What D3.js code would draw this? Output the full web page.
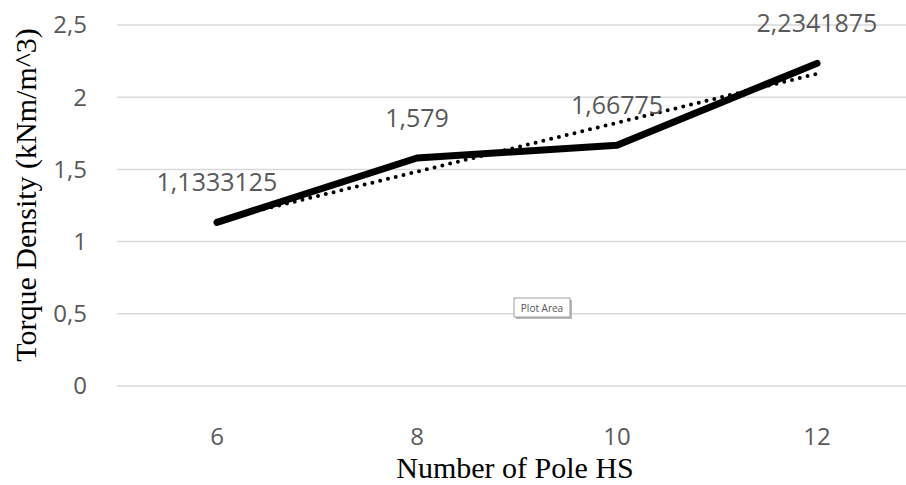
<!DOCTYPE html>
<html>
<head>
  <meta charset="utf-8">
  <script src="https://d3js.org/d3.v7.min.js"></script>
  <style>
    body { margin: 0; background: #fff; }
    svg { display: block; }
  </style>
</head>
<body>
  <div id="chart"></div>
  <script>
    // data
    var poles = ["6", "8", "10", "12"];
    var torque = [1.1333125, 1.579, 1.66775, 2.2341875];
    var labels = ["1,1333125", "1,579", "1,66775", "2,2341875"];
    var yTicks = [0, 0.5, 1, 1.5, 2, 2.5];

    var W = 906, H = 485;
    var svg = d3.select("#chart").append("svg")
      .attr("width", W)
      .attr("height", H);

    var x = d3.scalePoint().domain(poles).range([117, 917]).padding(0.5);
    var y = d3.scaleLinear().domain([0, 2.5]).range([386, 25]);

    var fmt = function (v) { return String(v).replace(".", ","); };

    // gridlines
    svg.append("g").selectAll("line")
      .data(yTicks)
      .join("line")
      .attr("x1", 117).attr("x2", W)
      .attr("y1", d => y(d)).attr("y2", d => y(d))
      .attr("stroke", "#d9d9d9")
      .attr("stroke-width", 1.5);

    // y tick labels
    svg.append("g").selectAll("text")
      .data(yTicks)
      .join("text")
      .attr("x", 87)
      .attr("y", d => y(d))
      .attr("dy", "0.35em")
      .attr("text-anchor", "end")
      .attr("font-family", "Open Sans")
      .attr("font-size", 24)
      .attr("fill", "#595959")
      .text(fmt);

    // x tick labels
    svg.append("g").selectAll("text")
      .data(poles)
      .join("text")
      .attr("x", d => x(d))
      .attr("y", 437)
      .attr("dy", "0.35em")
      .attr("text-anchor", "middle")
      .attr("font-family", "Open Sans")
      .attr("font-size", 24)
      .attr("fill", "#595959")
      .text(d => d);

    // linear trendline (least squares over category index)
    var n = torque.length;
    var mx = (n + 1) / 2, my = d3.mean(torque);
    var sxy = 0, sxx = 0;
    torque.forEach(function (v, i) {
      sxy += (i + 1 - mx) * (v - my);
      sxx += (i + 1 - mx) * (i + 1 - mx);
    });
    var slope = sxy / sxx, icpt = my - slope * mx;
    var trend = poles.map((p, i) => [p, icpt + slope * (i + 1)]);

    var line = d3.line().x(d => x(d[0])).y(d => y(d[1]));

    svg.append("path")
      .datum(poles.map((p, i) => [p, torque[i]]))
      .attr("d", line)
      .attr("fill", "none")
      .attr("stroke", "#000")
      .attr("stroke-width", 7)
      .attr("stroke-linecap", "round")
      .attr("stroke-linejoin", "round");

    svg.append("path")
      .datum(trend)
      .attr("d", line)
      .attr("fill", "none")
      .attr("stroke", "#000")
      .attr("stroke-width", 4)
      .attr("stroke-linecap", "round")
      .attr("stroke-dasharray", "0 8");

    // data labels
    svg.append("g").selectAll("text")
      .data(poles)
      .join("text")
      .attr("x", d => x(d))
      .attr("y", (d, i) => y(torque[i]) - 40)
      .attr("dy", "0.35em")
      .attr("text-anchor", "middle")
      .attr("font-family", "Open Sans")
      .attr("font-size", 25)
      .attr("fill", "#595959")
      .text((d, i) => labels[i]);

    // axis titles
    svg.append("text")
      .attr("transform", "translate(25,195) rotate(-90)")
      .attr("dy", "0.35em")
      .attr("text-anchor", "middle")
      .attr("font-family", "Liberation Serif")
      .attr("font-size", 30)
      .attr("fill", "#000")
      .text("Torque Density (kNm/m^3)");

    svg.append("text")
      .attr("x", 515)
      .attr("y", 467)
      .attr("dy", "0.35em")
      .attr("text-anchor", "middle")
      .attr("font-family", "Liberation Serif")
      .attr("font-size", 30)
      .attr("fill", "#000")
      .text("Number of Pole HS");

    // "Plot Area" hover tip
    var tip = svg.append("g").attr("transform", "translate(514,298)");
    tip.append("rect")
      .attr("x", 2).attr("y", 2)
      .attr("width", 56).attr("height", 19)
      .attr("fill", "#bbb");
    tip.append("rect")
      .attr("width", 56).attr("height", 19)
      .attr("fill", "#fff")
      .attr("stroke", "#888")
      .attr("stroke-width", 0.8);
    tip.append("text")
      .attr("x", 28).attr("y", 10)
      .attr("dy", "0.35em")
      .attr("text-anchor", "middle")
      .attr("font-family", "Open Sans")
      .attr("font-size", 10)
      .attr("fill", "#555")
      .text("Plot Area");
  </script>
</body>
</html>
